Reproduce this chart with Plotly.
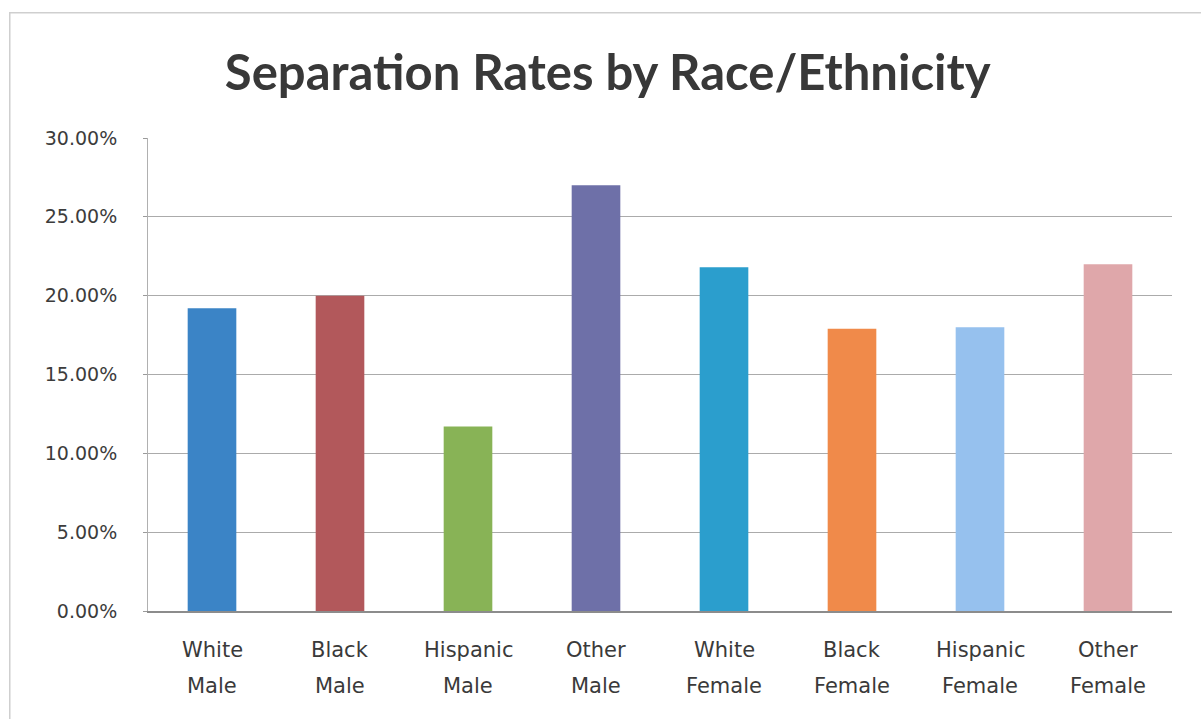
import plotly.graph_objects as go

# Separation rate per group (percent)
groups_line1 = ["White", "Black", "Hispanic", "Other", "White", "Black", "Hispanic", "Other"]
groups_line2 = ["Male", "Male", "Male", "Male", "Female", "Female", "Female", "Female"]
rates = [19.2, 20.0, 11.7, 27.0, 21.8, 17.9, 18.0, 22.0]
bar_colors = ["#3b84c6", "#b2585b", "#88b356", "#6e70a8",
              "#2b9ecd", "#f08a4a", "#96c1ee", "#dfa7aa"]
y_ticks = [0, 5, 10, 15, 20, 25, 30]
y_tick_labels = [f"{v:.2f}%" for v in y_ticks]

categories = [f"{a} {b}" for a, b in zip(groups_line1, groups_line2)]

fig = go.Figure(
    go.Bar(
        x=categories,
        y=rates,
        marker=dict(color=bar_colors, line=dict(width=0)),
        width=0.38,
        hovertemplate="%{x}: %{y:.2f}%<extra></extra>",
    )
)

label_font = dict(family="DejaVu Sans, sans-serif", size=21, color="#3a3a3a")
annotations = []
for cat, l1, l2 in zip(categories, groups_line1, groups_line2):
    annotations.append(dict(x=cat, y=0, xref="x", yref="paper", text=l1, showarrow=False,
                            yshift=-53, font=label_font))
    annotations.append(dict(x=cat, y=0, xref="x", yref="paper", text=l2, showarrow=False,
                            yshift=-89, font=label_font))

fig.update_layout(
    width=1201,
    height=719,
    margin=dict(l=148, r=29, t=138, b=108),
    paper_bgcolor="white",
    plot_bgcolor="white",
    showlegend=False,
    title=dict(
        text="<b>Separation Rates by Race/Ethnicity</b>",
        x=0.506, xanchor="center", y=0.898, yanchor="middle",
        font=dict(family="Lato, Open Sans, sans-serif", size=49, color="#383838"),
    ),
    xaxis=dict(
        showticklabels=False,
        showgrid=False,
        showline=True,
        linecolor="#8c8c8c",
        linewidth=1.5,
        ticks="",
        range=[-0.5, 7.5],
    ),
    yaxis=dict(
        range=[0, 30],
        tickvals=y_ticks,
        ticktext=y_tick_labels,
        showgrid=True,
        gridcolor="#ababab",
        gridwidth=1,
        zeroline=False,
        showline=True,
        linecolor="#b0b0b0",
        linewidth=1,
        ticks="outside",
        ticklen=4,
        tickcolor="#9a9a9a",
        ticklabelstandoff=22,
        tickfont=dict(family="DejaVu Sans, sans-serif", size=19, color="#3c3c3c"),
    ),
    annotations=annotations,
    shapes=[
        dict(type="rect", xref="paper", yref="paper", x0=-0.135, x1=1.06, y0=-0.4, y1=1.265,
             line=dict(color="#cfcfcf", width=1.5), fillcolor="rgba(0,0,0,0)", layer="below"),
    ],
)

fig.write_html("out.html")
